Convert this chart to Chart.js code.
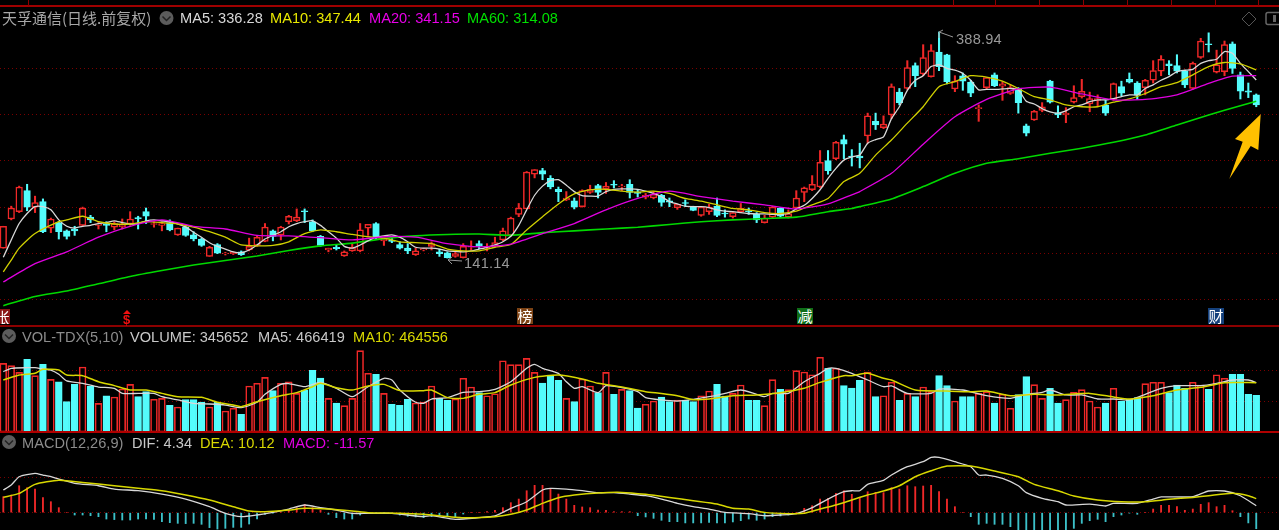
<!DOCTYPE html>
<html>
<head>
<meta charset="utf-8">
<title>天孚通信</title>
<script src="https://cdn.jsdelivr.net/npm/chart.js@4/dist/chart.umd.min.js"></script>
<style>
html, body { margin: 0; padding: 0; background: #000; width: 1279px; height: 530px; overflow: hidden; }
canvas { position: absolute; left: 0; }
.t { position: absolute; white-space: pre; font: 14.6px "Liberation Sans", Arial, sans-serif; line-height: 16px; }
.line { position: absolute; background: #8c0000; }
.mark { position: absolute; width: 16px; height: 16px; top: 308px; color: #fff; text-align: center; font: 15px/16px "Noto Sans CJK SC", sans-serif; overflow: hidden; }
svg { position: absolute; left: 0; top: 0; }
</style>
</head>
<body>

<canvas id="priceChart" style="top:7px" width="1279" height="318"></canvas>
<canvas id="volChart" style="top:326px" width="1279" height="107"></canvas>
<canvas id="macdChart" style="top:433px" width="1279" height="97"></canvas>

<!-- panel frames -->
<div class="line" style="left:0;top:5px;width:1279px;height:2px;background:#a00000"></div>
<div class="line" style="left:28px;top:0;width:1px;height:6px"></div>
<div class="line" style="left:953px;top:0;width:1px;height:6px"></div>
<div class="line" style="left:995px;top:0;width:1px;height:6px"></div>
<div class="line" style="left:1039px;top:0;width:1px;height:6px"></div>
<div class="line" style="left:1083px;top:0;width:1px;height:6px"></div>
<div class="line" style="left:1127px;top:0;width:1px;height:6px"></div>
<div class="line" style="left:1171px;top:0;width:1px;height:6px"></div>
<div class="line" style="left:1215px;top:0;width:1px;height:6px"></div>
<div class="line" style="left:1258px;top:0;width:1px;height:6px"></div>
<div class="line" style="left:0;top:325px;width:1279px;height:2px"></div>
<div class="line" style="left:0;top:431px;width:1279px;height:2px;background:#b00000"></div>

<!-- price header -->
<div class="t" style="left:2px;top:8px;color:#a8a8a8;font:15px/20px 'Noto Sans CJK SC',sans-serif">天孚通信(日线.前复权)</div>
<div class="t" style="left:180px;top:10px;color:#d8d8d8">MA5: 336.28</div>
<div class="t" style="left:270px;top:10px;color:#e8e800">MA10: 347.44</div>
<div class="t" style="left:369px;top:10px;color:#e800e8">MA20: 341.15</div>
<div class="t" style="left:467px;top:10px;color:#00e000">MA60: 314.08</div>

<!-- volume header -->
<div class="t" style="left:22px;top:329px;color:#8c8c8c">VOL-TDX(5,10)</div>
<div class="t" style="left:130px;top:329px;color:#c8c8c8">VOLUME: 345652</div>
<div class="t" style="left:258px;top:329px;color:#c8c8c8">MA5: 466419</div>
<div class="t" style="left:353px;top:329px;color:#d8d800">MA10: 464556</div>

<!-- macd header -->
<div class="t" style="left:22px;top:435px;color:#8c8c8c">MACD(12,26,9)</div>
<div class="t" style="left:132px;top:435px;color:#c8c8c8">DIF: 4.34</div>
<div class="t" style="left:200px;top:435px;color:#d8d800">DEA: 10.12</div>
<div class="t" style="left:283px;top:435px;color:#e000e0">MACD: -11.57</div>

<!-- high / low notes -->
<div class="t" style="left:956px;top:31px;color:#989898;letter-spacing:.2px">388.94</div>
<div class="t" style="left:464px;top:255px;color:#989898;letter-spacing:.2px">141.14</div>

<!-- event marks -->
<div class="mark" style="left:-6px;top:309px;background:#8a1414;width:16px;height:15px">张</div>
<div class="t" style="left:123px;top:312px;color:#f01010;font-weight:bold;font-size:13px">$</div>
<div class="mark" style="left:517px;background:#7c4214">榜</div>
<div class="mark" style="left:797px;background:#0f6e18">减</div>
<div class="mark" style="left:1208px;background:#14407c">财</div>

<svg width="1279" height="530">
  <!-- dropdown buttons -->
  <circle cx="166.5" cy="18" r="7" fill="#5c5c5c"/><path d="M162.5 16.5l4 4 4-4" fill="none" stroke="#222" stroke-width="1.5"/>
  <circle cx="9" cy="336" r="7" fill="#5c5c5c"/><path d="M5 334.5l4 4 4-4" fill="none" stroke="#222" stroke-width="1.5"/>
  <circle cx="9" cy="442" r="7" fill="#5c5c5c"/><path d="M5 440.5l4 4 4-4" fill="none" stroke="#222" stroke-width="1.5"/>
  <!-- top right icons -->
  <path d="M1249 12l7 7-7 7-7-7z" fill="none" stroke="#555" stroke-width="1"/>
  <rect x="1266" y="12.5" width="16" height="12" rx="2" fill="none" stroke="#666" stroke-width="1.5"/>
  <rect x="1273" y="15" width="3" height="7" fill="#666"/>
  <!-- note pointers -->
  <path d="M953 37L939 32M939 32l4-2M939 32v6" fill="none" stroke="#989898" stroke-width="1"/>
  <path d="M462 261L448 260M448 260l4-3M448 260l4 4" fill="none" stroke="#989898" stroke-width="1"/>
  <!-- $ mark triangle -->
  <path d="M127 310l4 4h-8z" fill="#f01010"/>
  <!-- big arrow -->
  <path d="M1260.7 114.3L1235 139L1242.7 141.7L1229.3 179L1250.7 146L1258.3 150Z" fill="#ffc000"/>
</svg>

<script>
// DATA - candles, price units
const open = [
  152,184,192,215,197,203,174,180,171,173,
  177,186,177,178.5,175,175.6,178.5,185.5,192,178,
  177,180,166.5,175,166.5,162,143,156,146,146,
  148,150,155,159.5,171,166.5,181,182,193,181,
  165,150,153,143.5,149,149,174,179,160,161,
  156,152,145,150,154,148,147,143,141.5,153,
  157,152,154,161,166,189,195,233,237,228.5,
  216.5,205,204,197.5,213,220.5,217,222,219,222,
  213.5,208,207,210,204,196.5,202,197.5,188,192,
  198,190.5,186.5,192,193,189,180,186,196,186,
  196,213,216,219,248,250,271,253,253,275,
  291,284,298,323,327,352,343,340,367,364,
  326.5,341,334,305,328,342,329.5,321.5,326,286,
  292.5,303,335,300,298,312,318,310,314,308.5,
  315,329,337,333,328,336,346,354,352,346,
  327,361,376,345,345.5,376,342,324.5,320
];
const high = [
  176,198,220,222,209,206,185,181,172,176,
  197,188,181,181,181,184,192,187,196,181,
  181,183,174,176,170,163,154,157,147.5,148,
  149,163,166,179,172,176,188,195,195,183,
  166,152,155.5,149,157,179,178,180,162,163,
  159,157,152,152,159,151,148,148,157,160,
  160,157,164,174,186,201,236,238,239.5,231.5,
  219,214,207,216,221,222,224,226,222,227,
  216.5,212,214,211,207,200,205,198,197.5,200,
  207,194,192,201,196,191,188,198,196.5,194,
  215,219,231.5,259,259,269,276,260,267,300,
  300,297,332,327,357.5,355,375,375,388.94,364.5,
  341,344,336,309,339,344,334.5,331,328,288,
  303,311.5,336,308,306,330,337,323,320,314,
  333,335,344,334.5,337,357.5,363,357.5,364,347,
  356,382,388,369,379,378,345,333,321
];
const low = [
  152,183,191,193,191,169,169,162,162,166,
  176,180,173,170,172,173,177,173,179,175,
  171,171,166,165,160,154,143,146,144.5,145,
  144,149,154,159,160,161,178.5,181,180,170,
  154,148,150,143,148.5,148,166,162,155,158,
  151,146,144,149,150,143,141.14,142,141.2,150,
  151.5,149,153.5,160,165,186.5,195,229,227,217,
  203,204,195,197,212,207,212,218,215,207,
  208,206,206,198,197.5,194.5,197.5,193,187,189,
  186.5,186,185,191,189,180,179.5,185,186,185,
  194.5,203,215,218,233,249,250,242,240,267,
  282,283,294,309,326,329,341,339.5,346.5,332,
  323.5,325,318,291,326.5,329,314,320.5,300,275,
  292,301.5,311,295,289.5,311,316.5,301.5,307,297.5,
  314,319,333,315,320,333,341,342,344,328,
  326,360,367,344,341,343.5,315.5,317,307
];
const close = [
  176,196,219,197,202,170,184,170,165,171,
  196,183,178.5,177,179,177.4,184,184,187,179,
  179,172,174,166,162,155,153,146.5,146.5,147.5,
  145,154,164,175,165,175,187,186,192,171,
  155,152,151.5,148,153,172,178,163,162,159.5,
  152,149,149,151.5,157,146,141.5,146,154,154,
  154,154,158,171,185,196,235.5,238,233,219,
  214,207,197,215,216.5,213,220,221,220,213,
  212,210,211,202,202.5,200,201,193.5,197,197,
  188,189.5,191,196,192,183,185,197,187,190,
  207,218,222,246,237,268,266,252,251,297,
  287,288,329,311.5,350,341,361,368.5,351,334.5,
  335,335,322,306,339,330,332,328,311.5,278,
  302,307,312,298,300,317,324,316,316,300,
  332.5,322,334,320,336,346.5,359,352,346,331,
  354.5,379,375,353,375,349,324,323,309
];

// moving averages on price, read at the candle numbers in the *X lists
const ma5 = [
  142,161,179,190,197.5,197.5,194,183,176,174,
  176,177,179,180,182,180,178.5,179,182,183,
  182,181,178.5,175,169.5,164,158,154,151,148,
  147,150,155.5,162,166,170,175.5,179,181,182,
  177,170,163,154,152,155.5,160,164,165.5,166.5,
  164,159,153,152,152,151,149,148.5,148,149,
  151,153,155.5,159,165,177,194,210,220,226,
  227,221,214,209.5,209,209,214,216.5,217,217,
  216.5,214.5,212,208.5,203,200.5,198,197.5,197.5,196.5,
  194,192.5,192,191,190,189.5,189.5,189,189,190,
  195,199,206.5,216,228.5,239.5,248.5,252,254,267,
  271,274,294,307,325,336,341,351,353,349,
  347,343.5,336,325.5,326,326,326.5,327,325.5,313,
  310,305,301.5,300,302.5,307,309,312.5,314.5,314.5,
  316,318,320,320,327,331,336,340,345.5,347,
  348,354.5,357.5,359,367.5,365.5,354.5,345.5,336.28
];
const ma10X = [
  0,1,2,4,7,8,10,12,14,16,18,20,22,24,26,28,30,32,34,36,38,40,42,44,46,48,50,52,
  54,56,58,60,62,64,66,68,70,72,74,76,78,80,82,84,86,88,90,92,94,96,98,100,102,104,106,
  108,110,112,114,116,118,120,122,124,126,128,130,132,134,136,138,140,142,144,146,148,150,152,154,156,158
];
const ma10 = [
  126,139,152,168,181,183,187,181,178.5,178.5,181,180,178.5,175,170,164,155.5,154.5,155,159,168,172,170,167,164.5,163,159,158,
  157,151,149,149,153,156,172,186.5,200.5,211.5,216,216.5,214.5,213.5,214.5,212,206.5,203.5,199.5,195.5,194,191,190,192.5,199.5,206.5,225,
  234,254,270.5,289,307,329,334.5,341,339.5,335,327,318,314.5,309,307,307,312,315.5,321.5,329,333.5,342,351,355.5,354,347.44
];
const ma20X = [0,4,8,12,16,20,24,28,32,36,40,44,48,52,56,60,64,68,72,76,80,84,88,92,96,100,104,107,108,112,116,120,124,128,132,136,140,144,148,152,155,158];
const ma20 = [
  115,135,148,164,176,183,176,173,166,165.5,163.5,161,164.5,164,
  157,153.5,156.5,168,179,194,206.5,214.5,208.5,203.5,199.5,195,200.5,210.5,
  214,234,266,296,315,326.5,328.5,321,314.5,315,320,332.5,340.5,341.15
];
const ma60X = [0,4,8,12,16,20,24,28,32,36,40,44,48,52,56,60,64,68,72,76,80,84,88,92,96,100,104,107,108,112,116,120,124,128,132,136,140,144,148,152,156,158];
const ma60 = [
  89,99,105,113,121,127.5,133.5,138.5,143.5,149.5,154.5,157.5,162.5,165.5,
  167,167.5,166,169,171,173,175,178,181,183,184.5,186,192,195.5,
  197.5,206,219.5,234,245,250,256,261.5,268,276,287,298,308,313
];

// volume in thousands
const volume = [
  647,625,562,685,531,638,496,474,286,449,
  613,430,270,342,330,405,449,333,380,308,
  317,251,236,305,305,283,236,280,198,223,
  167,434,459,515,390,459,474,364,396,581,
  509,317,273,248,317,767,553,544,364,261,
  251,308,273,280,434,317,298,311,506,424,
  371,342,361,672,635,635,694,562,462,537,
  487,317,286,500,434,371,562,355,402,390,
  226,261,292,330,286,302,302,286,342,386,
  449,339,364,443,298,298,248,493,402,399,
  578,566,540,704,600,600,437,415,487,566,
  333,342,468,298,364,333,424,380,531,437,
  292,333,333,364,380,273,355,223,352,522,
  446,317,412,273,305,374,399,292,236,273,
  412,289,308,324,456,468,468,371,443,412,
  468,443,402,540,506,544,544,355,345.652
];
const volMa5X = [
  0,1,3,4,5,6,7,8,10,12,14,15,17,19,20,22,24,26,28,30,32,33,35,36,38,40,42,44,46,48,49,50,52,53,
  54,56,58,60,62,64,66,67,68,70,71,72,73,75,76,78,80,81,83,85,87,89,91,93,95,96,97,99,101,103,104,105,107,
  109,111,112,114,117,118,121,124,127,129,131,132,134,136,138,140,142,144,146,148,151,153,155,157,158
];
const volMa5 = [
  569,600,606,606,594,584,544,481,459,424,412,364,364,364,333,302,270,264,254,229,280,355,449,456,427,468,412,333,427,506,490,396,280,270,
  311,324,374,380,402,474,600,638,600,553,474,412,427,371,437,418,380,324,302,292,308,333,364,396,355,333,364,364,474,553,600,600,553,
  490,427,434,364,364,405,396,342,317,355,374,396,349,349,311,311,302,355,412,437,437,459,490,490,466.419
];
const volMa10X = [
  0,2,4,5,7,8,10,12,14,16,18,20,22,25,27,29,30,32,35,37,39,40,42,44,46,48,50,53,
  54,56,58,60,62,64,67,70,73,75,78,81,83,85,87,89,92,95,98,101,103,106,107,
  109,111,112,115,119,122,124,127,130,133,137,140,142,145,148,151,154,158
];
const volMa10 = [
  490,537,553,591,584,537,531,474,437,396,396,364,333,327,280,254,239,286,342,371,427,459,418,396,434,449,390,390,
  396,324,317,355,371,443,515,537,500,459,424,380,364,342,305,311,342,349,371,412,468,531,531,
  553,506,490,396,386,380,386,342,355,349,364,330,311,342,396,421,465,464.556
];

// MACD
const macdBar = [
  11.5,12.7,19.4,18,17,10.8,7.9,3.6,0,-1.7,
  -1.7,-2.2,-2.9,-4.6,-5,-5.3,-5.3,-4.6,-4.6,-4.8,
  -6.5,-7.2,-7.7,-7.9,-7.7,-8.4,-10.8,-11.8,-11.3,-10.6,
  -10.6,-8.2,-4.6,-1.2,-0.3,0.3,1.9,3.6,6,3.6,
  1.7,-1.2,-3.6,-4.6,-4.6,-1.7,-0.2,-0.2,-0.2,-0.7,
  -1.7,-2.6,-3.1,-3.6,-2.9,-2.4,-2.9,-3.4,-1,0,
  0,0.7,1.7,3.6,7.2,9.8,15.8,19.7,19.7,17,
  13.4,9.8,5.3,4.1,3.6,1.9,1.7,0.7,0.7,0.7,
  -2.2,-3.1,-4.1,-5.5,-6.5,-6.5,-7.4,-7.4,-7.4,-7,
  -7.4,-7.4,-6.7,-5.8,-4.6,-5.5,-4.6,-2.9,-2.4,-1.7,
  0,3.1,5,9.8,10.3,13.9,15.8,13.2,10.8,15.1,
  14.6,14.4,18,17,19.4,18.7,19.2,19.7,15.1,9.8,
  4.3,0,-2.9,-8.4,-7.7,-8.4,-8.4,-10.1,-14,-14,
  -14,-14,-14,-13,-13,-11.3,-7.7,-5.8,-4.8,-6.5,
  -2.9,-1.7,-0.3,-1.2,0,2.6,5.3,5.3,4.3,1.7,
  2.6,6,7.2,4.3,5.3,1.4,-2.9,-7.4,-11.57
];
const difX = [
  0,1,2,4,5,6,7,9,12,14,17,20,23,26,28,30,32,34,36,38,40,42,44,46,49,53,
  54,57,60,62,64,66,68,69,71,73,75,77,79,81,83,85,87,89,91,94,96,98,100,102,104,106,107,
  108,109,111,112,114,116,117,118,120,122,123,124,126,128,129,131,133,134,137,139,140,143,145,146,150,152,154,156,158
];
const dif = [
  16.3,19.9,25.9,28.3,27.1,25.9,24.2,21.1,19.4,17,15.8,13.4,9.8,4.3,-0.5,-2.9,-1.7,0.2,2.6,5.5,3.6,1.9,-0.5,-0.5,-0.5,-2.9,
  -2.2,-4.8,-3.6,-2.4,3.1,7.9,16.3,17.5,17,15.8,14.4,14.4,13.4,12.2,9.8,6.7,4.3,2.6,0.2,-0.7,-2.2,-1.7,-0.7,3.6,9.8,15.1,15.8,
  15.8,20.4,23.3,27.1,33.1,36.7,39.8,39.8,36.7,33.1,27.1,27.1,24.7,19.4,14.4,10.3,7.9,5.5,6.2,4.8,6.7,6.7,9.8,11.3,11.5,15.6,15.6,12.2,5
];
const deaX = [
  0,2,4,7,10,14,17,20,23,26,29,31,33,36,38,41,44,46,50,53,
  54,58,62,64,66,68,70,72,75,78,81,84,87,90,92,94,96,99,101,103,105,107,
  109,111,113,115,117,119,122,125,128,130,133,135,138,141,144,147,150,152,155,157,158
];
const dea = [
  11,13.9,20.4,23.3,21.8,19.4,17.5,15.8,12.7,9.1,4.3,1.2,0.7,1.9,3.1,2.6,1.2,0,-0.5,-1.2,
  -1.7,-3.6,-2.9,-1.2,1.9,6.7,10.8,12.7,14.2,14.6,13.2,11,8.6,6.2,3.1,2.6,0.2,-0.7,-0.5,2.6,5.5,9.1,
  12.7,15.6,19.4,25.9,30.2,33.6,33.6,30,25.9,20.4,15.8,12,9.1,7.9,7.9,9.6,11,12.2,13.9,12.2,10.12
];

// dotted guide lines of each panel
const priceGrid = [348.7, 298.3, 247.9, 197, 146.7, 96];
const volGrid = [584, 292];
const macdGrid = [25.4, 0];

// STYLE
const RED = '#f02828';
const CYAN = '#54fcfc';
const GRID = '#7a0000';
const X_MIN = -0.416;
const X_MAX = 160.87;

const candleNo = close.map((_, i) => i);
const isUp = close.map((c, i) => c >= open[i]);
const upColor = isUp.map(u => (u ? RED : CYAN));
const bodyFill = isUp.map(u => (u ? '#000' : CYAN));

// --- HELPERS ---
function xy(xs, ys) {
  return xs.map((x, i) => ({ x: x, y: ys[i] }));
}

function lineSet(xs, ys, color, order, width) {
  return {
    type: 'line',
    data: xy(xs, ys),
    borderColor: color,
    borderWidth: width || 1.3,
    pointRadius: 0,
    tension: 0.2,
    order: order
  };
}

function makeChart(id, datasets, yMin, yMax, gridValues) {
  return new Chart(document.getElementById(id), {
    data: { datasets: datasets },
    options: {
      responsive: false,
      animation: false,
      events: [],
      layout: { padding: 0 },
      plugins: { legend: { display: false }, tooltip: { enabled: false } },
      scales: {
        x: { type: 'linear', display: false, offset: false, min: X_MIN, max: X_MAX },
        y: {
          min: yMin,
          max: yMax,
          border: { display: false, dash: [1, 3] },
          ticks: { display: false },
          grid: { color: GRID, lineWidth: 1, drawTicks: false },
          afterBuildTicks: axis => { axis.ticks = gridValues.map(v => ({ value: v })); }
        }
      }
    }
  });
}

// --- PRICE PANEL ---
makeChart('priceChart', [
  lineSet(candleNo, ma5, '#d8d8d8', 4),
  lineSet(ma10X, ma10, '#d0d000', 3),
  lineSet(ma20X, ma20, '#e000e0', 2),
  lineSet(ma60X, ma60, '#00d800', 5, 1.6),
  {
    type: 'bar',
    grouped: false,
    data: candleNo.map(i => ({ x: i, y: [Math.min(open[i], close[i]), Math.max(open[i], close[i])] })),
    barThickness: 6.6,
    backgroundColor: bodyFill,
    borderColor: upColor,
    borderWidth: 1.5,
    borderSkipped: false,
    order: 6
  },
  {
    type: 'bar',
    grouped: false,
    data: candleNo.map(i => ({ x: i, y: [low[i], high[i]] })),
    barThickness: 1.4,
    backgroundColor: upColor,
    order: 7
  }
], 67.8, 416.3, priceGrid);

// --- VOLUME PANEL ---
makeChart('volChart', [
  lineSet(volMa5X, volMa5, '#d8d8d8', 2),
  lineSet(volMa10X, volMa10, '#d8d800', 1, 1.5),
  {
    type: 'bar',
    grouped: false,
    data: xy(candleNo, volume),
    barThickness: 6.8,
    backgroundColor: bodyFill,
    borderColor: upColor,
    borderWidth: 1.6,
    borderSkipped: false,
    order: 3
  }
], -9.4, 999.2, volGrid);

// --- MACD PANEL ---
makeChart('macdChart', [
  lineSet(difX, dif, '#d8d8d8', 2),
  lineSet(deaX, dea, '#d8d800', 1, 1.5),
  {
    type: 'bar',
    grouped: false,
    data: xy(candleNo, macdBar),
    barThickness: 1.2,
    backgroundColor: macdBar.map(v => (v >= 0 ? RED : '#3cc0c8')),
    order: 3
  }
], -12.5, 57.4, macdGrid);
</script>
</body>
</html>
